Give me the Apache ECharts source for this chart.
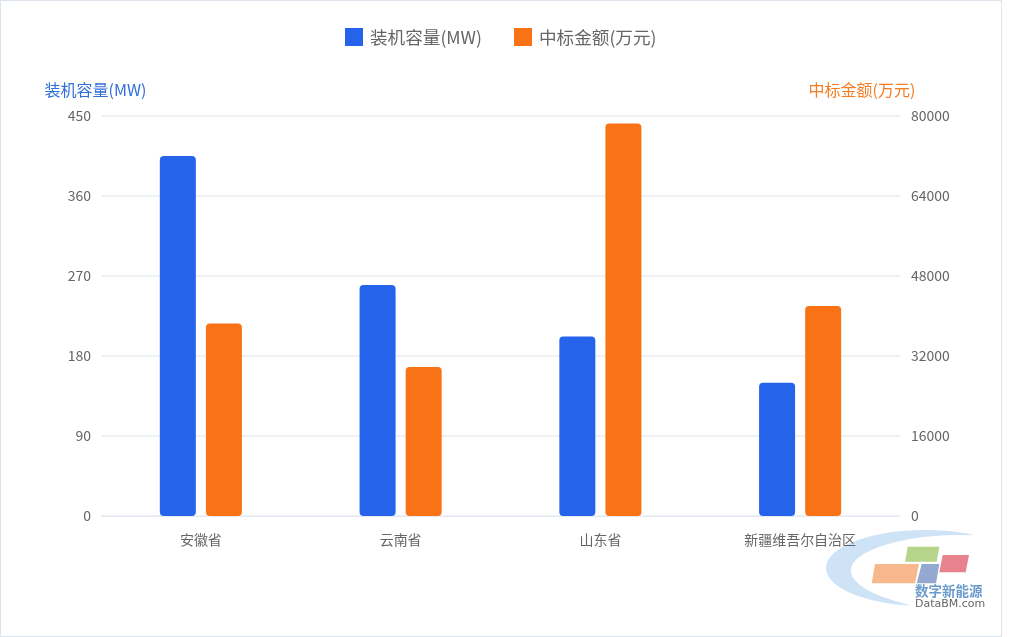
<!DOCTYPE html>
<html><head><meta charset="utf-8">
<script src="https://cdn.jsdelivr.net/npm/echarts@6/dist/echarts.min.js"></script>
<style>
html,body{margin:0;padding:0;background:#fff;}
#wrap{position:absolute;left:0;top:0;width:1002px;height:637px;box-sizing:border-box;border:1px solid #dce4ee;}
#c{position:absolute;left:0;top:0;width:1010px;height:637px;}
</style></head>
<body>
<div id="wrap"></div>
<div id="c"></div>
<script>
const categories = ['安徽省', '云南省', '山东省', '新疆维吾尔自治区'];
const capacity = [405, 260, 202, 150];
const bidAmount = [38500, 29800, 78500, 42000];
const leftTicks = [0, 90, 180, 270, 360, 450];
const rightTicks = [0, 16000, 32000, 48000, 64000, 80000];
const seriesNames = ['装机容量(MW)', '中标金额(万元)'];

// watermark crescent shape (decoration only)
function crescent() {
  const cx = 925, cy = 568, rx = 99, ry = 38, t0 = 60, t1 = 262;
  const outer = [], inner = [];
  for (let d = t0; d <= t1; d += 3) {
    const t = d * Math.PI / 180;
    const w = 26 * Math.pow(Math.sin(Math.PI * (d - t0) / (t1 - t0)), 0.8);
    outer.push([cx + rx * Math.cos(t), cy - ry * Math.sin(t)]);
    inner.push([cx + (rx - w) * Math.cos(t), cy - (ry - w * 0.5) * Math.sin(t)]);
  }
  return outer.concat(inner.reverse());
}

const FONT = '"Noto Sans CJK SC", "Noto Sans", sans-serif';
const chart = echarts.init(document.getElementById('c'), null, {renderer: 'canvas'});
chart.setOption({
  animation: false,
  textStyle: {fontFamily: FONT},
  legend: {
    top: 23, left: 340, itemWidth: 18, itemHeight: 18, itemGap: 32,
    icon: 'rect',
    textStyle: {fontSize: 17.6, color: '#666', fontFamily: FONT, padding: [0, 0, 0, 2]},
    data: seriesNames
  },
  grid: {left: 101, right: 110, top: 116, bottom: 121},
  xAxis: {
    type: 'category', data: categories,
    axisLine: {show: true, lineStyle: {color: '#e6eaf0'}},
    axisTick: {show: false},
    axisLabel: {fontSize: 14, color: '#666', margin: 17, fontFamily: FONT}
  },
  yAxis: [{
    type: 'value', name: seriesNames[0], min: leftTicks[0], max: leftTicks[leftTicks.length - 1], interval: 90,
    position: 'left',
    nameGap: 18,
    nameTextStyle: {color: '#2f6fd9', fontSize: 16, fontFamily: FONT, align: 'center', padding: [0, 11, 0, 0]},
    axisLine: {show: false}, axisTick: {show: false},
    axisLabel: {fontSize: 14, color: '#666', margin: 10, fontFamily: FONT},
    splitLine: {lineStyle: {color: '#e9edf3', width: 1.5}}
  }, {
    type: 'value', name: seriesNames[1], min: rightTicks[0], max: rightTicks[rightTicks.length - 1], interval: 16000,
    position: 'right',
    nameGap: 18,
    nameTextStyle: {color: '#f57c23', fontSize: 16, fontFamily: FONT, align: 'center', padding: [0, 76, 0, 0]},
    axisLine: {show: false}, axisTick: {show: false},
    axisLabel: {fontSize: 14, color: '#666', margin: 11, fontFamily: FONT, formatter: v => String(v)},
    splitLine: {show: false}
  }],
  series: [{
    name: seriesNames[0], type: 'bar', yAxisIndex: 0, data: capacity,
    barWidth: 36, barGap: '28%',
    itemStyle: {color: '#2563eb', borderRadius: 4}
  }, {
    name: seriesNames[1], type: 'bar', yAxisIndex: 1, data: bidAmount,
    barWidth: 36, barGap: '28%',
    itemStyle: {color: '#f97316', borderRadius: 4}
  }],
  graphic: [
    {type: 'polygon', shape: {points: crescent()}, style: {fill: '#c9e0f5', opacity: 0.9}, z: 0, silent: true},
    {type: 'polygon', shape: {points: [[907.7,546.7],[939.3,546.7],[936.7,561.7],[905,561.7]]}, style: {fill: '#b7d58a'}, silent: true},
    {type: 'polygon', shape: {points: [[942.7,555],[969,555],[965.7,572.3],[939.3,572.3]]}, style: {fill: '#e8838d'}, silent: true},
    {type: 'polygon', shape: {points: [[875,564],[919,564],[915,583.3],[871.7,583.3]]}, style: {fill: '#f6b88c'}, silent: true},
    {type: 'polygon', shape: {points: [[921.7,564],[939.3,564],[936,583.3],[916.7,583.3]]}, style: {fill: '#93a9d0'}, silent: true},
    {type: 'text', left: 915, top: 584, style: {text: '数字新能源', fill: '#6b9bcc', font: 'bold 13.5px "Noto Sans CJK SC"'}, silent: true},
    {type: 'text', left: 915, top: 599, style: {text: 'DataBM.com', fill: '#666', font: '11px "DejaVu Sans"'}, silent: true}
  ]
});
</script>
</body></html>
